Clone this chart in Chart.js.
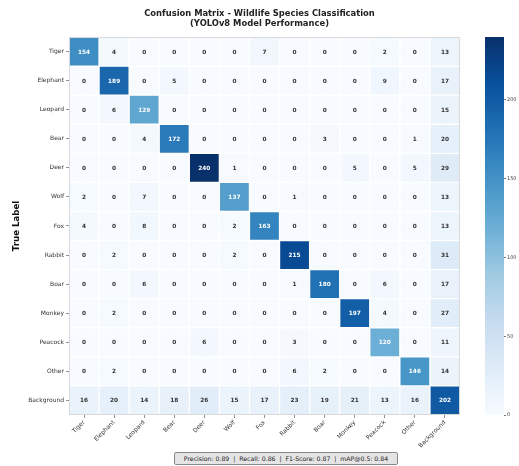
<!DOCTYPE html>
<html>
<head>
<meta charset="utf-8">
<script src="https://cdn.jsdelivr.net/npm/chart.js@4.4.1/dist/chart.umd.min.js"></script>
<style>
  html, body { margin: 0; padding: 0; background: #fff; }
  #wrap { position: relative; width: 519px; height: 466px; overflow: hidden; }
  #mainBox { position: absolute; left: 0; top: 0; width: 519px; height: 466px; }
  #barBox { position: absolute; left: 480px; top: 0; width: 39px; height: 466px; }
  #footer {
    position: absolute; left: 174px; top: 452px; width: 222px; height: 11px;
    border: 1px solid #8a8a8a; border-radius: 2px; background: #e4e4e4;
    font: 6.2px "DejaVu Sans", sans-serif; color: #222; text-align: center; line-height: 11px;
    white-space: pre;
  }
</style>
</head>
<body>
<div id="wrap">
  <div id="mainBox"><canvas id="matrixChart"></canvas></div>
  <div id="barBox"><canvas id="colorBar"></canvas></div>
  <div id="footer"></div>
</div>
<script>
// ========== DATA ==========
const classNames = ['Tiger', 'Elephant', 'Leopard', 'Bear', 'Deer', 'Wolf', 'Fox',
                    'Rabbit', 'Boar', 'Monkey', 'Peacock', 'Other', 'Background'];

// rows = true label, columns = predicted label
const rowTiger      = [154,   4,   0,   0,   0,   0,   7,   0,   0,   0,   2,   0,  13];
const rowElephant   = [  0, 189,   0,   5,   0,   0,   0,   0,   0,   0,   9,   0,  17];
const rowLeopard    = [  0,   6, 129,   0,   0,   0,   0,   0,   0,   0,   0,   0,  15];
const rowBear       = [  0,   0,   4, 172,   0,   0,   0,   0,   3,   0,   0,   1,  20];
const rowDeer       = [  0,   0,   0,   0, 240,   1,   0,   0,   0,   5,   0,   5,  29];
const rowWolf       = [  2,   0,   7,   0,   0, 137,   0,   1,   0,   0,   0,   0,  13];
const rowFox        = [  4,   0,   8,   0,   0,   2, 163,   0,   0,   0,   0,   0,  13];
const rowRabbit     = [  0,   2,   0,   0,   0,   2,   0, 215,   0,   0,   0,   0,  31];
const rowBoar       = [  0,   0,   6,   0,   0,   0,   0,   1, 180,   0,   6,   0,  17];
const rowMonkey     = [  0,   2,   0,   0,   0,   0,   0,   0,   0, 197,   4,   0,  27];
const rowPeacock    = [  0,   0,   0,   0,   6,   0,   0,   3,   0,   0, 120,   0,  11];
const rowOther      = [  0,   2,   0,   0,   0,   0,   0,   6,   2,   0,   0, 146,  14];
const rowBackground = [ 16,  20,  14,  18,  26,  15,  17,  23,  19,  21,  13,  16, 202];

const matrix = [rowTiger, rowElephant, rowLeopard, rowBear, rowDeer, rowWolf, rowFox,
                rowRabbit, rowBoar, rowMonkey, rowPeacock, rowOther, rowBackground];

const colorMax = 240;
const colorBarTicks = [0, 50, 100, 150, 200];

const titleLines = ['Confusion Matrix - Wildlife Species Classification', '(YOLOv8 Model Performance)'];
const yAxisTitle = 'True Label';
const metricNames = ['Precision', 'Recall', 'F1-Score', 'mAP@0.5'];
const metricValues = [0.89, 0.86, 0.87, 0.84];

// ========== COLOUR MAP (matplotlib Blues) ==========
const bluesStops = ['#f7fbff', '#deebf7', '#c6dbef', '#9ecae1', '#6baed6',
                    '#4292c6', '#2171b5', '#08519c', '#08306b'];

function hexToRgb(h) {
    return [parseInt(h.slice(1, 3), 16), parseInt(h.slice(3, 5), 16), parseInt(h.slice(5, 7), 16)];
}

function blues(t) {
    t = Math.max(0, Math.min(1, t));
    const p = t * (bluesStops.length - 1);
    const i = Math.min(Math.floor(p), bluesStops.length - 2);
    const f = p - i;
    const a = hexToRgb(bluesStops[i]), b = hexToRgb(bluesStops[i + 1]);
    const c = a.map((v, k) => Math.round(v + (b[k] - v) * f));
    return `rgb(${c[0]},${c[1]},${c[2]})`;
}

const FONT = '"DejaVu Sans", sans-serif';

// ========== PLUGINS ==========
const cellLabels = {
    id: 'cellLabels',
    afterDatasetsDraw(chart) {
        const ctx = chart.ctx;
        ctx.save();
        ctx.font = `bold 5.8px ${FONT}`;
        ctx.textAlign = 'center';
        ctx.textBaseline = 'middle';
        chart.data.datasets.forEach((ds, r) => {
            chart.getDatasetMeta(r).data.forEach((bar, c) => {
                const v = matrix[r][c];
                const pt = bar.getCenterPoint();
                ctx.fillStyle = v >= 100 ? '#ffffff' : '#333333';
                ctx.fillText(String(v), pt.x, pt.y + 0.5);
            });
        });
        ctx.restore();
    }
};

const areaOutline = {
    id: 'areaOutline',
    afterDraw(chart) {
        const a = chart.chartArea;
        const ctx = chart.ctx;
        ctx.save();
        ctx.strokeStyle = '#d9d9d9';
        ctx.lineWidth = 1;
        ctx.strokeRect(a.left + 0.5, a.top + 0.5, a.right - a.left - 1, a.bottom - a.top - 1);
        ctx.restore();
    }
};

// ========== MATRIX CHART ==========
new Chart(document.getElementById('matrixChart'), {
    type: 'bar',
    data: {
        labels: classNames,
        datasets: matrix.map((row, r) => ({
            label: classNames[r],
            data: row.map(() => [r - 0.5, r + 0.5]),
            backgroundColor: row.map(v => blues(v / colorMax)),
            borderColor: 'rgba(255,255,255,0.55)',
            borderWidth: 1,
            borderSkipped: false,
            grouped: false,
            barPercentage: 1,
            categoryPercentage: 1
        }))
    },
    options: {
        responsive: true,
        maintainAspectRatio: false,
        animation: false,
        devicePixelRatio: 1,
        layout: { padding: { left: 4, right: 4, top: 0, bottom: 0 } },
        plugins: {
            legend: { display: false },
            tooltip: { enabled: false },
            title: {
                display: true,
                text: titleLines,
                color: '#222',
                font: { family: FONT, size: 8.4, weight: 'bold', lineHeight: 1.19 },
                padding: { top: 9, bottom: 8 }
            }
        },
        scales: {
            x: {
                type: 'category',
                z: 1,
                grid: { offset: false, color: 'rgba(225,225,225,0.5)', lineWidth: 0.8,
                        tickColor: '#777', tickLength: 3 },
                border: { display: false },
                ticks: { color: '#333', font: { family: FONT, size: 6 },
                         minRotation: 45, maxRotation: 45, padding: 1, autoSkip: false },
                afterFit: s => { s.height = 51; }
            },
            y: {
                type: 'linear',
                reverse: true,
                min: -0.5,
                max: 12.5,
                z: 1,
                afterBuildTicks: s => { s.ticks = classNames.map((_, i) => ({ value: i })); },
                grid: { color: 'rgba(225,225,225,0.5)', lineWidth: 0.8,
                        tickColor: '#777', tickLength: 3 },
                border: { display: false },
                ticks: { color: '#333', font: { family: FONT, size: 6 }, padding: 2,
                         autoSkip: false, callback: v => classNames[v] },
                title: {
                    display: true,
                    text: yAxisTitle,
                    color: '#111',
                    font: { family: FONT, size: 8.6, weight: 'bold' },
                    padding: { top: 8, bottom: 0 }
                },
                afterFit: s => { s.width = 65; }
            },
            // empty right-hand gutter that leaves room for the colour bar
            gutter: {
                type: 'linear',
                position: 'right',
                display: true,
                grid: { display: false },
                border: { display: false },
                ticks: { display: false },
                afterFit: s => { s.width = 55; }
            }
        }
    },
    plugins: [cellLabels, areaOutline]
});

// ========== COLOUR BAR ==========
new Chart(document.getElementById('colorBar'), {
    type: 'bar',
    data: {
        labels: [''],
        datasets: [{
            data: [[0, colorMax]],
            backgroundColor: (c) => {
                const area = c.chart.chartArea;
                if (!area) return bluesStops[4];
                const g = c.chart.ctx.createLinearGradient(0, area.bottom, 0, area.top);
                bluesStops.forEach((col, i) => g.addColorStop(i / (bluesStops.length - 1), col));
                return g;
            },
            borderWidth: 0,
            barPercentage: 1,
            categoryPercentage: 1
        }]
    },
    options: {
        responsive: true,
        maintainAspectRatio: false,
        animation: false,
        devicePixelRatio: 1,
        layout: { padding: { left: 5, right: 0, top: 37, bottom: 51 } },
        plugins: { legend: { display: false }, tooltip: { enabled: false }, title: { display: false } },
        scales: {
            x: { display: false },
            y: {
                position: 'right',
                min: 0,
                max: colorMax,
                afterBuildTicks: s => { s.ticks = colorBarTicks.map(v => ({ value: v })); },
                grid: { drawOnChartArea: false, tickColor: '#777', tickLength: 2 },
                border: { display: false },
                ticks: { color: '#444', font: { family: FONT, size: 5 }, padding: 1 },
                afterFit: s => { s.width = 15; }
            }
        }
    }
});

// ========== FOOTER ==========
document.getElementById('footer').textContent =
    metricNames.map((n, i) => `${n}: ${metricValues[i].toFixed(2)}`).join('  |  ');
</script>
</body>
</html>
